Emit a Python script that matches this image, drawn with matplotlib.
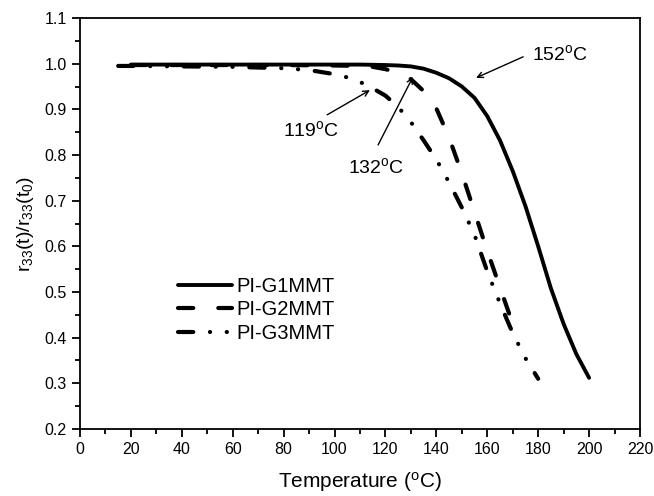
import matplotlib.pyplot as plt
from matplotlib.ticker import MultipleLocator

plt.rcParams['font.family'] = ['Liberation Sans', 'DejaVu Sans']
plt.rcParams['mathtext.fontset'] = 'custom'
plt.rcParams['mathtext.rm'] = 'Liberation Sans'
plt.rcParams['mathtext.it'] = 'Liberation Sans'
plt.rcParams['lines.scale_dashes'] = False

# Normalised r33 vs temperature for the three films
temp_g1 = [20, 40, 60, 80, 100, 110, 120, 125, 130, 135, 140, 145, 150, 155,
           160, 165, 170, 175, 180, 185, 190, 195, 200]
r33_g1 = [0.998, 0.998, 0.998, 0.998, 0.998, 0.998, 0.997, 0.996, 0.994, 0.989,
          0.980, 0.968, 0.950, 0.925, 0.885, 0.832, 0.765, 0.688, 0.600, 0.508,
          0.430, 0.364, 0.312]

temp_g2 = [20, 40, 60, 80, 100, 110, 115, 120, 125, 130, 135, 140, 145, 150,
           155, 160, 165, 170]
r33_g2 = [0.997, 0.997, 0.997, 0.997, 0.996, 0.995, 0.993, 0.988, 0.980, 0.966,
          0.940, 0.902, 0.838, 0.760, 0.675, 0.590, 0.510, 0.430]

temp_g3 = [15, 20, 40, 60, 80, 90, 100, 105, 110, 115, 120, 125, 130, 135, 140,
           145, 150, 155, 160, 165, 170, 175, 180]
r33_g3 = [0.995, 0.995, 0.994, 0.993, 0.990, 0.986, 0.977, 0.970, 0.960, 0.946,
          0.930, 0.905, 0.872, 0.832, 0.790, 0.740, 0.685, 0.625, 0.545, 0.475,
          0.410, 0.355, 0.310]

labels = ['PI-G1MMT', 'PI-G2MMT', 'PI-G3MMT']

# transition temperature notes: text position, arrow tail, arrow head
notes = ['152$^{\\mathrm{o}}$C', '119$^{\\mathrm{o}}$C', '132$^{\\mathrm{o}}$C']
note_xy = [(177.6, 1.021), (79.8, 0.855), (105.3, 0.774)]
arrow_tail = [(174.1, 1.015), (97.1, 0.888), (117.1, 0.822)]
arrow_head = [(155.6, 0.969), (113.9, 0.942), (130.8, 0.971)]

fig = plt.figure(figsize=(6.54, 4.96), dpi=100)
ax = fig.add_axes([80 / 654, 1 - 429 / 496, 560 / 654, 411 / 496])

ax.plot(temp_g1, r33_g1, color='black', lw=2.8, solid_capstyle='round',
        label=labels[0])
ax.plot(temp_g2, r33_g2, color='black', lw=3, dash_capstyle='round',
        linestyle=(0, (11, 18)), label=labels[1])
ax.plot(temp_g3, r33_g3, color='black', lw=3, dash_capstyle='round',
        linestyle=(0, (11, 12, 0.1, 12, 0.1, 12)), label=labels[2])

arrow = dict(arrowstyle='->', color='black', lw=1, shrinkA=0, shrinkB=0)
for txt, pos, tail, head in zip(notes, note_xy, arrow_tail, arrow_head):
    ax.annotate('', xy=head, xytext=tail, arrowprops=arrow)
    ax.text(pos[0], pos[1], txt, fontsize=14, ha='left', va='center')

ax.set_xlim(0, 220)
ax.set_ylim(0.2, 1.1)
ax.xaxis.set_major_locator(MultipleLocator(20))
ax.xaxis.set_minor_locator(MultipleLocator(10))
ax.yaxis.set_major_locator(MultipleLocator(0.1))
ax.yaxis.set_minor_locator(MultipleLocator(0.05))
ax.yaxis.set_major_formatter(plt.FormatStrFormatter('%.1f'))
ax.tick_params(which='both', direction='out', top=False, right=False,
               width=1.3, labelsize=11.5)
ax.tick_params(which='major', length=6)
ax.tick_params(which='minor', length=3.5)
for s in ax.spines.values():
    s.set_linewidth(1.3)

ax.set_xlabel('Temperature ($^{\\mathrm{o}}$C)', fontsize=15, labelpad=9)
ax.set_ylabel('r$_{33}$(t)/r$_{33}$(t$_0$)', fontsize=14, labelpad=6)

ax.legend(loc='upper left', bbox_to_anchor=(0.175, 0.37), frameon=False,
          fontsize=14.5, handlelength=2.7, handletextpad=0.2, labelspacing=0.22,
          borderpad=0, borderaxespad=0)

fig.savefig('out.png', dpi=100)
